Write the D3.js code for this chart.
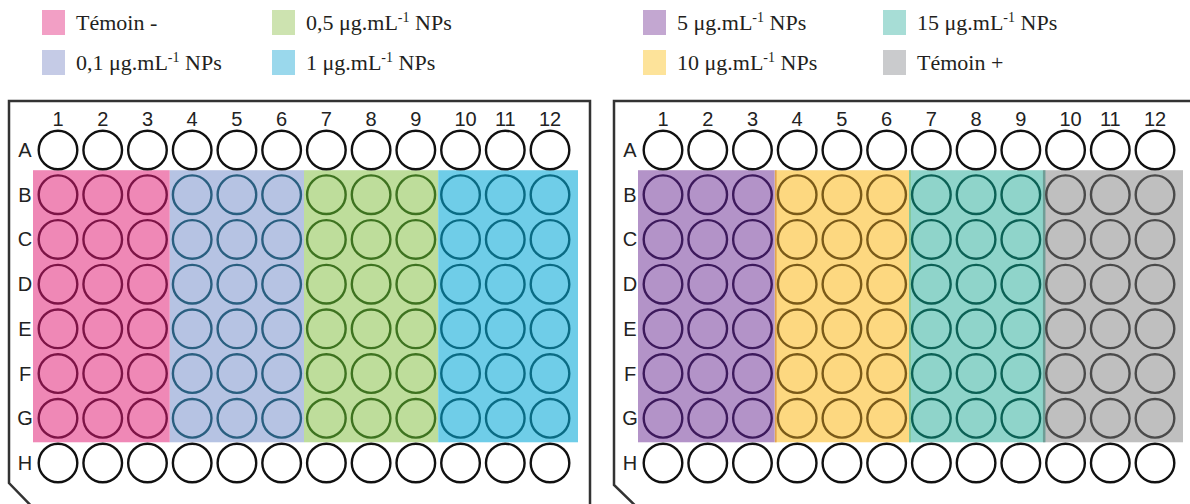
<!DOCTYPE html>
<html>
<head>
<meta charset="utf-8">
<script src="https://cdn.jsdelivr.net/npm/d3@7"></script>
<style>
  body { margin: 0; background: #fff; }
</style>
</head>
<body>
<div id="my_dataviz"></div>
<script>
// treatments (legend order) and where they sit on the two plates
const treatments = ["Témoin -", "0,1", "0,5", "1", "5", "10", "15", "Témoin +"];
const legendColors = ["#f29fc5", "#c5cbe6", "#cde3b0", "#9ad8ec", "#c3a7d1", "#fde39a", "#a7ddd6", "#cacbcd"];
const bandColors = ["#ef88b6", "#b6c3e3", "#bedd9b", "#6fcde8", "#b393c8", "#fdd880", "#8fd4ca", "#bfbfbf"];
const wellStroke = ["#7d1446", "#2a5f80", "#3e7320", "#0a6b84", "#3d1a5c", "#7a5a18", "#0c6155", "#4a4a4a"];
// thin seam at the left edge of some bands (scan artefact in the original)
const seamColors = [null, null, null, null, null, "#e0a04e", "#82c48e", "#6e9e96"];
const plate1 = ["Témoin -", "0,1", "0,5", "1"];
const plate2 = ["5", "10", "15", "Témoin +"];
const plates = [plate1, plate2];

const rows = ["A", "B", "C", "D", "E", "F", "G", "H"];
const cols = [1, 2, 3, 4, 5, 6, 7, 8, 9, 10, 11, 12];
const treatedRows = ["B", "C", "D", "E", "F", "G"];

const width = 1190, height = 504;
const plateShift = 605;

const svg = d3.select("#my_dataviz")
  .append("svg")
  .attr("width", width)
  .attr("height", height);

// wells
const x = d3.scalePoint().domain(cols).range([58, 550]);
const y = d3.scalePoint().domain(rows).range([150, 463]);
const r = 19.3;

// legend
const legCol = d3.scaleOrdinal().domain([0, 1, 2, 3]).range([42, 272, 643, 883]);
const legRow = d3.scaleOrdinal().domain([0, 1]).range([10, 50]);

const leg = svg.append("g")
  .selectAll("g")
  .data(treatments)
  .join("g")
  .attr("transform", (d, i) => `translate(${legCol(Math.floor(i / 2))},${legRow(i % 2)})`);

leg.append("rect")
  .attr("width", 23)
  .attr("height", 25)
  .attr("fill", (d, i) => legendColors[i]);

const lt = leg.append("text")
  .attr("x", 34)
  .attr("y", 20)
  .attr("font-family", "'Liberation Serif', serif")
  .attr("font-size", 22)
  .attr("fill", "#231f20");

lt.each(function(d) {
  const t = d3.select(this);
  if (d.startsWith("Témoin")) { t.text(d); return; }
  t.append("tspan").text(d + " μg.mL");
  t.append("tspan").attr("dy", -8).attr("font-size", 14).text("-1");
  t.append("tspan").attr("dy", 8).text(" NPs");
});

// plates
plates.forEach(function(groups, p) {
  const g = svg.append("g").attr("transform", `translate(${p * plateShift},0)`);

  // outline with the cut corner
  const outline = p === 0
    ? [[590, 515], [590, 101], [9, 101], [9, 483], [40, 515]]
    : [[600, 101], [9, 101], [9, 485], [40, 515]];
  g.append("path")
    .attr("d", d3.line()(outline))
    .attr("fill", "none")
    .attr("stroke", "#333")
    .attr("stroke-width", 2.5);

  // colored treatment bands (3 columns each)
  const step = x.step();
  const edges = [x(1) - 25, x(3) + step / 2, x(6) + step / 2, x(9) + step / 2, x(12) + 28];
  const top = y("B") - 24.5, bottom = y("G") + 24;
  g.selectAll("rect.band")
    .data(groups)
    .join("rect")
    .attr("class", "band")
    .attr("x", (d, i) => edges[i])
    .attr("y", top)
    .attr("width", (d, i) => edges[i + 1] - edges[i])
    .attr("height", bottom - top)
    .attr("fill", d => bandColors[treatments.indexOf(d)]);

  g.selectAll("line.seam")
    .data(groups.map((d, i) => ({k: treatments.indexOf(d), i: i})).filter(d => seamColors[d.k]))
    .join("line")
    .attr("class", "seam")
    .attr("x1", d => edges[d.i] + 1)
    .attr("x2", d => edges[d.i] + 1)
    .attr("y1", top)
    .attr("y2", bottom)
    .attr("stroke", d => seamColors[d.k])
    .attr("stroke-width", d => d.k === 7 ? 2.5 : 1.5);

  const wells = [];
  rows.forEach(rw => cols.forEach(c => {
    const k = treatedRows.includes(rw) ? treatments.indexOf(groups[Math.floor((c - 1) / 3)]) : -1;
    wells.push({row: rw, col: c, k: k});
  }));

  g.selectAll("circle")
    .data(wells)
    .join("circle")
    .attr("cx", d => x(d.col))
    .attr("cy", d => y(d.row))
    .attr("r", r)
    .attr("fill", d => d.k < 0 ? "#fff" : "none")
    .attr("stroke", d => d.k < 0 ? "#111" : wellStroke[d.k])
    .attr("stroke-width", 2.4);

  // column numbers and row letters
  g.selectAll("text.col")
    .data(cols)
    .join("text")
    .attr("class", "col")
    .attr("x", d => x(d) + (d === 10 ? 5 : 0))
    .attr("y", 126)
    .attr("text-anchor", "middle")
    .attr("font-family", "'Liberation Sans', Arial, sans-serif")
    .attr("font-size", 20)
    .attr("fill", "#222")
    .text(d => d);

  g.selectAll("text.row")
    .data(rows)
    .join("text")
    .attr("class", "row")
    .attr("x", 25)
    .attr("y", d => y(d) + 7)
    .attr("text-anchor", "middle")
    .attr("font-family", "'Liberation Sans', Arial, sans-serif")
    .attr("font-size", 20)
    .attr("fill", "#222")
    .text(d => d);
});
</script>
</body>
</html>
